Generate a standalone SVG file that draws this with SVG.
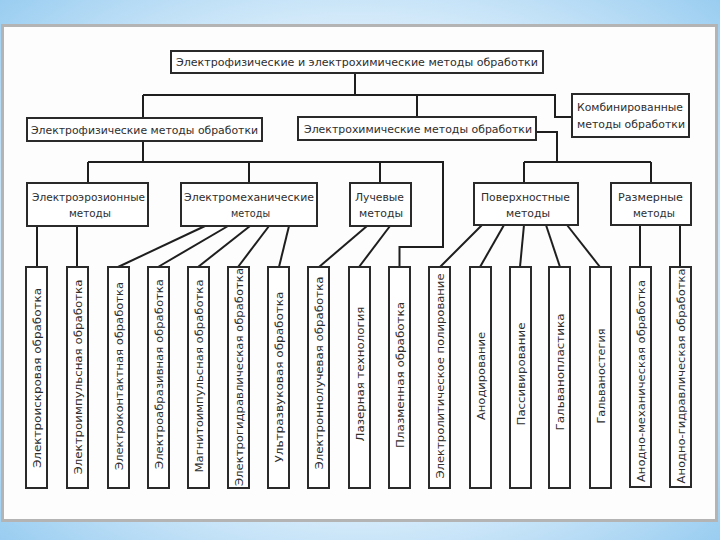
<svg xmlns="http://www.w3.org/2000/svg" width="720" height="540" viewBox="0 0 720 540">
<defs>
<radialGradient id="bg" cx="50%" cy="50%" r="75%">
<stop offset="0%" stop-color="#f4f9fe"/>
<stop offset="60%" stop-color="#d6ebfa"/>
<stop offset="100%" stop-color="#8fc8ef"/>
</radialGradient>
<style>
.box{fill:#fff;stroke:#2a2a2a;stroke-width:2}
.ln{fill:none;stroke:#1e1e1e;stroke-width:2}
text{font-family:"DejaVu Sans Condensed","DejaVu Sans",sans-serif;font-size:11px;fill:#2e2e2e;lengthAdjust:spacingAndGlyphs}
.v{text-anchor:middle}
</style>
</defs>
<rect x="0" y="0" width="720" height="540" fill="url(#bg)"/>
<rect x="2.5" y="25.5" width="714" height="495" fill="#fdfdfd" stroke="#b4b4b4" stroke-width="3"/>

<g id="connectors" class="ln">
<path d="M355 73 V95"/>
<path d="M143 95 H555 V117 H572"/>
<path d="M143 95 V118"/>
<path d="M417 95 V117"/>
<path d="M143 141 V162"/>
<path d="M88 162 H443 V247 H399.5 V267"/>
<path d="M88 162 V183"/>
<path d="M249 162 V183"/>
<path d="M380 162 V183"/>
<path d="M536 132 H557 V162"/>
<path d="M524 162 H651"/>
<path d="M524 162 V183"/>
<path d="M651 162 V183"/>
<path d="M37 226 V267"/>
<path d="M77 226 V267"/>
<path d="M205 226 L118 267"/>
<path d="M228 226 L158 267"/>
<path d="M250 226 L198 267"/>
<path d="M269 226 L238 267"/>
<path d="M289 226 L279 267"/>
<path d="M367 226 L319 267"/>
<path d="M390 226 L359 267"/>
<path d="M482 225 L440 267"/>
<path d="M504 225 L480 267"/>
<path d="M524 225 L520 267"/>
<path d="M546 225 L560 267"/>
<path d="M567 225 L600 267"/>
<path d="M640 225 V267"/>
<path d="M680 225 V267"/>
</g>

<g id="root"><rect class="box" x="171" y="51" width="372" height="22"/><text x="176" y="66" textLength="362" lengthAdjust="spacingAndGlyphs">Электрофизические и электрохимические методы обработки</text></g>
<g id="efiz"><rect class="box" x="27" y="118" width="235" height="23"/><text x="31" y="133.5" textLength="227" lengthAdjust="spacingAndGlyphs">Электрофизические методы обработки</text></g>
<g id="ehim"><rect class="box" x="298" y="117" width="238" height="23"/><text x="304" y="132.5" textLength="228" lengthAdjust="spacingAndGlyphs">Электрохимические методы обработки</text></g>
<g id="komb"><rect class="box" x="572" y="94" width="117" height="43"/><text x="577" y="111" textLength="106" lengthAdjust="spacingAndGlyphs">Комбинированные</text><text x="577" y="128" textLength="108" lengthAdjust="spacingAndGlyphs">методы обработки</text></g>

<g id="eroz"><rect class="box" x="27" y="183" width="121" height="43"/><text x="32" y="201" textLength="113" lengthAdjust="spacingAndGlyphs">Электроэрозионные</text><text x="69" y="217" textLength="42" lengthAdjust="spacingAndGlyphs">методы</text></g>
<g id="emeh"><rect class="box" x="181" y="183" width="136" height="43"/><text x="184" y="201" textLength="130" lengthAdjust="spacingAndGlyphs">Электромеханические</text><text x="231" y="217" textLength="39" lengthAdjust="spacingAndGlyphs">методы</text></g>
<g id="luch"><rect class="box" x="350" y="183" width="61" height="43"/><text x="355" y="201" textLength="49" lengthAdjust="spacingAndGlyphs">Лучевые</text><text x="359" y="217" textLength="44" lengthAdjust="spacingAndGlyphs">методы</text></g>
<g id="pov"><rect class="box" x="474" y="183" width="104" height="42"/><text x="481" y="201" textLength="89" lengthAdjust="spacingAndGlyphs">Поверхностные</text><text x="506" y="217" textLength="44" lengthAdjust="spacingAndGlyphs">методы</text></g>
<g id="razm"><rect class="box" x="611" y="183" width="80" height="42"/><text x="618" y="201" textLength="65" lengthAdjust="spacingAndGlyphs">Размерные</text><text x="633" y="217" textLength="42" lengthAdjust="spacingAndGlyphs">методы</text></g>

<g id="b1"><rect class="box" x="26" y="267" width="21" height="221"/><text class="v" transform="translate(40.5 378) rotate(-90)" textLength="180" lengthAdjust="spacingAndGlyphs">Электроискровая обработка</text></g>
<g id="b2"><rect class="box" x="67" y="267" width="21" height="221"/><text class="v" transform="translate(81.5 377) rotate(-90)" textLength="195" lengthAdjust="spacingAndGlyphs">Электроимпульсная обработка</text></g>
<g id="b3"><rect class="box" x="108" y="267" width="21" height="221"/><text class="v" transform="translate(122.5 376) rotate(-90)" textLength="188" lengthAdjust="spacingAndGlyphs">Электроконтактная обработка</text></g>
<g id="b4"><rect class="box" x="148" y="267" width="21" height="221"/><text class="v" transform="translate(162.5 374) rotate(-90)" textLength="190" lengthAdjust="spacingAndGlyphs">Электроабразивная обработка</text></g>
<g id="b5"><rect class="box" x="188" y="267" width="21" height="221"/><text class="v" transform="translate(202.5 376) rotate(-90)" textLength="193" lengthAdjust="spacingAndGlyphs">Магнитоимпульсная обработка</text></g>
<g id="b6"><rect class="box" x="228" y="267" width="21" height="221"/><text class="v" transform="translate(242.5 377) rotate(-90)" textLength="218" lengthAdjust="spacingAndGlyphs">Электрогидравлическая обработка</text></g>
<g id="b7"><rect class="box" x="268" y="267" width="21" height="221"/><text class="v" transform="translate(282.5 377) rotate(-90)" textLength="171" lengthAdjust="spacingAndGlyphs">Ультразвуковая обработка</text></g>
<g id="b8"><rect class="box" x="308" y="267" width="21" height="221"/><text class="v" transform="translate(322.5 373) rotate(-90)" textLength="193" lengthAdjust="spacingAndGlyphs">Электроннолучевая обработка</text></g>
<g id="b9"><rect class="box" x="349" y="267" width="21" height="221"/><text class="v" transform="translate(363.5 374) rotate(-90)" textLength="135" lengthAdjust="spacingAndGlyphs">Лазерная технология</text></g>
<g id="b10"><rect class="box" x="389" y="267" width="21" height="221"/><text class="v" transform="translate(403.5 375) rotate(-90)" textLength="146" lengthAdjust="spacingAndGlyphs">Плазменная обработка</text></g>
<g id="b11"><rect class="box" x="429" y="267" width="21" height="221"/><text class="v" transform="translate(443.5 376) rotate(-90)" textLength="205" lengthAdjust="spacingAndGlyphs">Электролитическое полирование</text></g>
<g id="b12"><rect class="box" x="470" y="267" width="21" height="221"/><text class="v" transform="translate(484.5 376) rotate(-90)" textLength="88" lengthAdjust="spacingAndGlyphs">Анодирование</text></g>
<g id="b13"><rect class="box" x="510" y="267" width="21" height="221"/><text class="v" transform="translate(524.5 374) rotate(-90)" textLength="103" lengthAdjust="spacingAndGlyphs">Пассивирование</text></g>
<g id="b14"><rect class="box" x="549" y="267" width="21" height="221"/><text class="v" transform="translate(563.5 372) rotate(-90)" textLength="117" lengthAdjust="spacingAndGlyphs">Гальванопластика</text></g>
<g id="b15"><rect class="box" x="590" y="267" width="21" height="221"/><text class="v" transform="translate(604.5 376) rotate(-90)" textLength="95" lengthAdjust="spacingAndGlyphs">Гальваностегия</text></g>
<g id="b16"><rect class="box" x="630" y="267" width="21" height="220"/><text class="v" transform="translate(644.5 381) rotate(-90)" textLength="202" lengthAdjust="spacingAndGlyphs">Анодно-механическая обработка</text></g>
<g id="b17"><rect class="box" x="670" y="267" width="21" height="220"/><text class="v" transform="translate(684.5 376) rotate(-90)" textLength="215" lengthAdjust="spacingAndGlyphs">Анодно-гидравлическая обработка</text></g>
</svg>
